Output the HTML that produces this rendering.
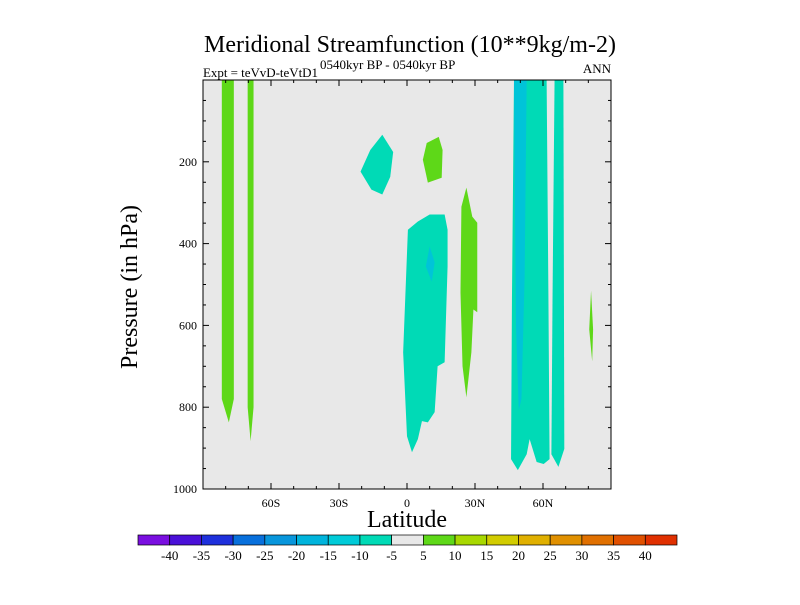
<!DOCTYPE html>
<html><head><meta charset="utf-8"><style>
body{margin:0;background:#fff;width:800px;height:600px;overflow:hidden}
svg text{font-family:"Liberation Serif",serif;fill:#000}
</style></head><body>
<svg id="c" width="800" height="600"></svg>
<script>
const latTicks=[-60,-30,0,30,60];
const latLabels=["60S","30S","0","30N","60N"];
const pTicks=[200,400,600,800,1000];
const levels=[-40,-35,-30,-25,-20,-15,-10,-5,5,10,15,20,25,30,35,40];
const colors=["#7a0fe0","#4a10d8","#1e30dc","#0870dc","#0896dc","#00b4dc","#00cbd8","#00dab6","#e8e8e8","#5ed818","#a8d800","#d2cc00","#e0b000","#e09000","#e07000","#e05000","#e03000"];
const regionFill=["#5ed818","#5ed818","#00dab6","#5ed818","#00dab6","#00c4d8","#5ed818","#00dab6","#00dab6","#00c4d8","#5ed818"];
const regionName=["green-band-80s","green-band-69s","teal-blob-upper","green-blob-upper","teal-band-equator","blue-core-equator","green-band-27n","teal-band-50n","teal-band-67n","blue-core-50n","green-sliver-82n"];
const regions=[
[[-81.7,0],[-76.4,0],[-76.4,780],[-78.6,837],[-81.7,780]],
[[-70.3,0],[-67.7,0],[-67.7,800],[-69.0,883],[-70.3,800]],
[[-10.9,134],[-6.1,176],[-7.4,237],[-10.9,280],[-15.7,268],[-20.5,224],[-16.2,171]],
[[8.7,154],[14.0,139],[15.7,171],[15.3,239],[9.2,251],[7.0,195]],
[[10.0,329],[16.6,329],[17.9,366],[17.9,456],[16.6,690],[13.5,700],[12.2,812],[9.2,837],[6.6,834],[4.8,878],[2.2,910],[0,871],[-1.7,666],[0.4,366],[4.8,346]],
[[10.0,407],[12.2,446],[10.9,493],[8.3,456]],
[[26.2,263],[28.8,334],[31.0,349],[31.0,568],[29.3,561],[28.4,666],[26.2,776],[24.5,700],[23.6,520],[24.0,310]],
[[47.2,0],[61.6,0],[62.4,537],[62.9,927],[60.3,939],[57.2,934],[54.1,878],[52.8,915],[48.9,954],[45.9,927],[46.3,537]],
[[65.1,0],[69.0,0],[69.4,902],[66.8,946],[63.7,915],[64.2,537]],
[[47.2,0],[52.8,0],[51.9,480],[50.5,780],[49.3,808],[48.1,600],[47.6,300]],
[[81.2,515],[82.1,610],[81.7,688],[80.4,610]]
];
const X0=203,X1=611,Y0=80,Y1=489;
const xs=l=>X0+(l+90)/180*(X1-X0);
const ys=p=>Y0+p/1000*(Y1-Y0);
const NS="http://www.w3.org/2000/svg";
const svg=document.getElementById('c');
function mk(t,a,txt){const e=document.createElementNS(NS,t);for(const k in a)e.setAttribute(k,a[k]);if(txt!==undefined)e.textContent=txt;svg.appendChild(e);return e;}
let e;
e=mk('rect',{x:X0,y:Y0,width:X1-X0,height:Y1-Y0,fill:'#e8e8e8'});


regions.forEach((r,i)=>{
 e=mk('polygon',{points:r.map(q=>xs(q[0])+','+ys(q[1])).join(' '),fill:regionFill[i]});
 
 
});
e=mk('rect',{x:X0,y:Y0,width:X1-X0,height:Y1-Y0,fill:'none',stroke:'#000','stroke-width':1});


for(let l=-80;l<=80;l+=10){const maj=l%30===0;const L=maj?6:3;
 mk('line',{x1:xs(l),x2:xs(l),y1:Y1,y2:Y1-L,stroke:'#000'});
 mk('line',{x1:xs(l),x2:xs(l),y1:Y0,y2:Y0+L,stroke:'#000'});}
for(let p=50;p<1000;p+=50){const maj=p%200===0;const L=maj?6:3;
 mk('line',{x1:X0,x2:X0+L,y1:ys(p),y2:ys(p),stroke:'#000'});
 mk('line',{x1:X1,x2:X1-L,y1:ys(p),y2:ys(p),stroke:'#000'});}
latTicks.forEach((l,i)=>{e=mk('text',{x:xs(l),y:Y1+18,'text-anchor':'middle','font-size':12},latLabels[i]);
 
 });
pTicks.forEach(p=>{e=mk('text',{x:X0-6,y:ys(p)+4,'text-anchor':'end','font-size':12},p);
 
 });
e=mk('text',{x:410,y:52,'text-anchor':'middle','font-size':24},'Meridional Streamfunction (10**9kg/m-2)');


e=mk('text',{x:203,y:77,'font-size':13,textLength:115},'Expt = teVvD-teVtD1');


e=mk('text',{x:320,y:69,'font-size':13},'0540kyr BP - 0540kyr BP');


e=mk('text',{x:611,y:73,'text-anchor':'end','font-size':13},'ANN');


e=mk('text',{x:407,y:527,'text-anchor':'middle','font-size':24},'Latitude');


e=mk('text',{x:0,y:0,'text-anchor':'middle','font-size':24,transform:'translate(137,287) rotate(-90)'},'Pressure (in hPa)');


const CB0=138,CB1=677,cw=(CB1-CB0)/colors.length;
colors.forEach((c,i)=>{e=mk('rect',{x:CB0+i*cw,y:535,width:cw,height:10,fill:c,stroke:'#000','stroke-width':0.7});
 
 });
levels.forEach((v,i)=>{e=mk('text',{x:CB0+(i+1)*cw,y:560,'text-anchor':'middle','font-size':13},v);
 
 });
</script>
</body></html>
